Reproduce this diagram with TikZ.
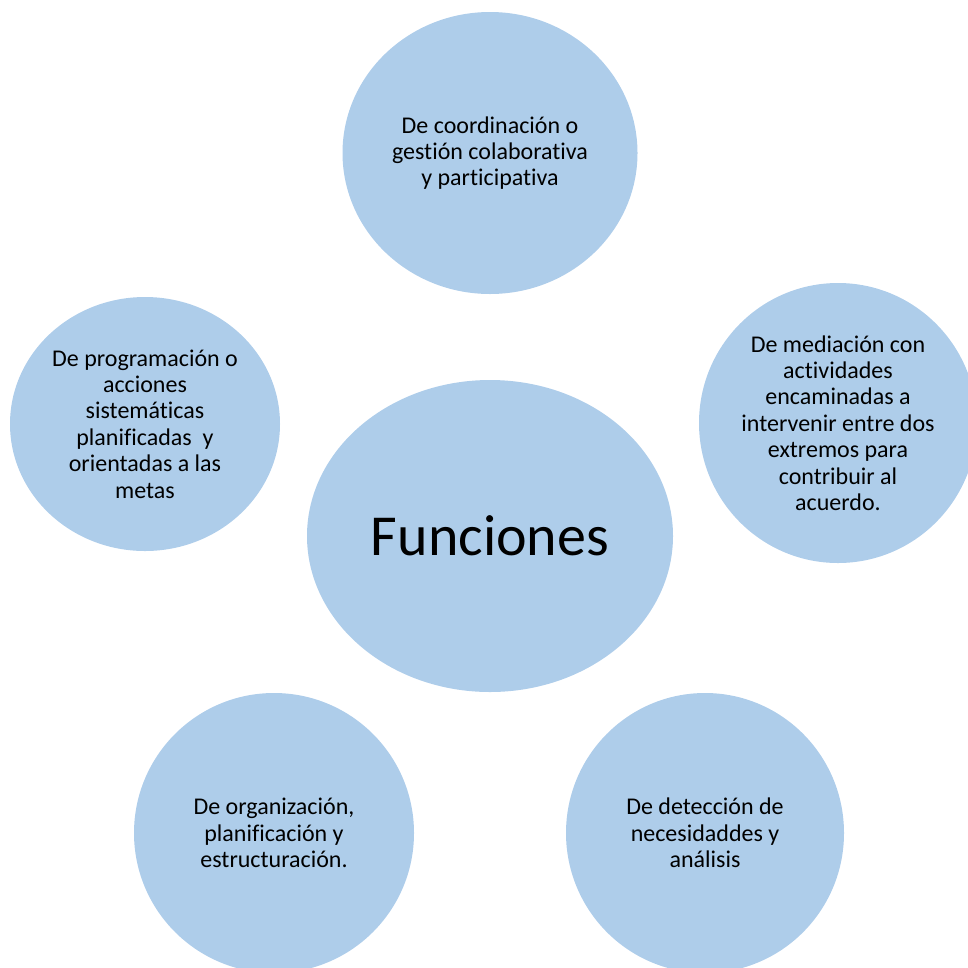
\documentclass[tikz,border=0pt]{standalone}
\usepackage{fontspec}
\setmainfont{Carlito}[Ligatures={NoCommon,NoRare,NoContextual}]
\usetikzlibrary{shapes.geometric}
\definecolor{bubble}{RGB}{174,205,234}
\tikzset{
  bub/.style={ellipse, fill=bubble, draw=none, inner sep=0pt, align=center,
    font=\fontsize{24}{26.4}\selectfont},
}
\begin{document}
\begin{tikzpicture}[x=1pt,y=-1pt]
\useasboundingbox (0,0) rectangle (968,967);
\clip (0,0) rectangle (968,967);
\node[bub, minimum width=295pt, minimum height=282pt] (top) at (490,153)
  {De coordinación o\\gestión colaborativa\\y participativa};
\node[bub, minimum width=270pt, minimum height=254pt] (left) at (145,424)
  {De programación o\\acciones\\sistemáticas\\planificadas\ \ y\\orientadas a las\\metas};
\node[bub, minimum width=278pt, minimum height=280pt] (right) at (838,423)
  {De mediación con\\actividades\\encaminadas a\\intervenir entre dos\\extremos para\\contribuir al\\acuerdo.};
\node[bub, minimum width=366pt, minimum height=312pt, font=\fontsize{58}{60}\selectfont] (center) at (490,536)
  {Funciones};
\node[bub, minimum width=280pt, minimum height=280pt] (bl) at (274,833)
  {De organización,\\planificación y\\estructuración.};
\node[bub, minimum width=278pt, minimum height=280pt] (br) at (705,833)
  {De detección de\\necesidaddes y\\análisis};
\end{tikzpicture}
\end{document}
